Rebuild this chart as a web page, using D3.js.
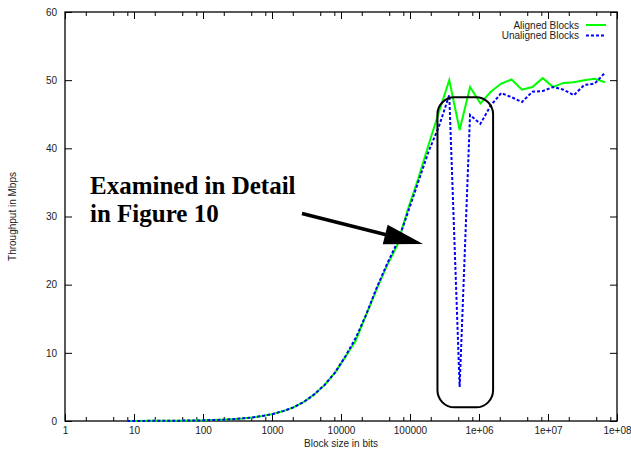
<!DOCTYPE html>
<html>
<head>
<meta charset="utf-8">
<script src="https://cdn.jsdelivr.net/npm/d3@7"></script>
<style>
  html, body { margin: 0; padding: 0; background: #fff; }
  svg { display: block; }
  .sans { font-family: "Liberation Sans", Arial, Helvetica, sans-serif; }
  .serif { font-family: "Liberation Serif", "Times New Roman", serif; font-weight: bold; }
</style>
</head>
<body>
<svg id="chart" width="631" height="451"></svg>
<script>
// ---- data ----
const blockSizes = [8, 11, 16, 23, 32, 45, 64, 91, 128, 181, 256, 362, 512, 724, 1024, 1448,
  2048, 2896, 4096, 5793, 8192, 11585, 16384, 23170, 32768, 46341, 65536, 92682, 131072,
  185364, 262144, 370728, 524288, 741455, 1048576, 1482910, 2097152, 2965821, 4194304,
  5931642, 8388608, 11863283, 16777216, 23726566, 33554432, 47453133, 67108864];

const alignedMbps = [0.01, 0.01, 0.02, 0.02, 0.03, 0.05, 0.07, 0.09, 0.13, 0.18, 0.26, 0.37,
  0.52, 0.73, 1.02, 1.45, 2.0, 2.8, 3.9, 5.3, 7.1, 9.4, 11.8, 15.6, 19.3, 22.8, 25.8, 31.0,
  35.5, 40.5, 45.3, 50.0, 42.7, 49.0, 46.6, 48.3, 49.5, 50.1, 48.6, 49.0, 50.3, 49.0, 49.6,
  49.7, 50.0, 50.2, 49.7];

const unalignedMbps = [0.01, 0.01, 0.02, 0.02, 0.03, 0.05, 0.07, 0.09, 0.13, 0.18, 0.26, 0.37,
  0.52, 0.73, 1.02, 1.45, 2.0, 2.8, 3.9, 5.3, 7.1, 9.5, 12.2, 15.6, 19.5, 23.0, 26.2, 30.5,
  35.0, 39.5, 43.2, 47.8, 5.0, 44.9, 43.6, 46.3, 48.1, 47.5, 46.8, 48.3, 48.4, 49.0, 48.6,
  47.8, 49.3, 49.5, 51.1];

const seriesNames = ["Aligned Blocks", "Unaligned Blocks"];
const xTickValues = [1, 10, 100, 1000, 10000, 100000, 1e6, 1e7, 1e8];
const xTickLabels = ["1", "10", "100", "1000", "10000", "100000", "1e+06", "1e+07", "1e+08"];
const yTickValues = [0, 10, 20, 30, 40, 50, 60];
const xMinorTicks = [2, 5, 8];
const annotationLines = ["Examined in Detail", "in Figure 10"];
// region highlighted by the rounded box (block size range, Mbps range)
const boxRange = { x0: 250000, x1: 1600000, y0: 2, y1: 47.5 };
// ---- chart ----
const svg = d3.select("#chart");
const L = 65, R = 617, T = 12, B = 421;
const x = d3.scaleLog().domain([1, 1e8]).range([L, R]);
const y = d3.scaleLinear().domain([0, 60]).range([B, T]);

const minor = [];
for (let d = 1; d < 1e8; d *= 10) xMinorTicks.forEach(m => minor.push(d * m));

function styleAxis(g) {
  g.select(".domain").remove();
  g.selectAll("line").attr("stroke", "#000").attr("stroke-width", 1);
  g.selectAll("text").attr("class", "sans").style("font-size", "10px").attr("fill", "#222");
}

svg.append("g").attr("transform", `translate(0,${B})`)
  .call(d3.axisBottom(x).tickValues(xTickValues).tickSize(-7).tickPadding(6)
    .tickFormat((d, i) => xTickLabels[i]))
  .call(styleAxis);
svg.append("g").attr("transform", `translate(0,${B})`)
  .call(d3.axisBottom(x).tickValues(minor).tickSize(-4).tickFormat(""))
  .call(styleAxis);
svg.append("g").attr("transform", `translate(0,${T})`)
  .call(d3.axisTop(x).tickValues(xTickValues).tickSize(-7).tickFormat(""))
  .call(styleAxis);
svg.append("g").attr("transform", `translate(0,${T})`)
  .call(d3.axisTop(x).tickValues(minor).tickSize(-4).tickFormat(""))
  .call(styleAxis);
svg.append("g").attr("transform", `translate(${L},0)`)
  .call(d3.axisLeft(y).tickValues(yTickValues).tickSize(-7).tickPadding(8))
  .call(styleAxis);
svg.append("g").attr("transform", `translate(${R},0)`)
  .call(d3.axisRight(y).tickValues(yTickValues).tickSize(-7).tickFormat(""))
  .call(styleAxis);

svg.append("rect").attr("x", L).attr("y", T).attr("width", R - L).attr("height", B - T)
  .attr("fill", "none").attr("stroke", "#000").attr("stroke-width", 1.3);

svg.append("text").attr("class", "sans").attr("x", (L + R) / 2).attr("y", 447).attr("text-anchor", "middle")
  .style("font-size", "10px").attr("fill", "#222").text("Block size in bits");
svg.append("text").attr("class", "sans").attr("transform", `translate(16,${(T + B) / 2}) rotate(-90)`)
  .attr("text-anchor", "middle").style("font-size", "10px").attr("fill", "#222")
  .text("Throughput in Mbps");

const line = d3.line().x(d => x(d[0])).y(d => y(d[1]));
const alignedData = blockSizes.map((s, i) => [s, alignedMbps[i]]);
const unalignedData = blockSizes.map((s, i) => [s, unalignedMbps[i]]);

svg.append("path").datum(alignedData).attr("d", line)
  .attr("fill", "none").attr("stroke", "#00ff00").attr("stroke-width", 2);
svg.append("path").datum(unalignedData).attr("d", line)
  .attr("fill", "none").attr("stroke", "#0000ff").attr("stroke-width", 2)
  .attr("stroke-dasharray", "3,2");

const legColors = ["#00ff00", "#0000ff"];
const legDash = [null, "3,2"];
seriesNames.forEach((n, i) => {
  const ly = 25 + i * 10.5;
  svg.append("text").attr("class", "sans").attr("x", 579).attr("y", ly + 3.5).attr("text-anchor", "end")
    .style("font-size", "10px").attr("fill", "#222").text(n);
  svg.append("line").attr("x1", 586).attr("x2", 606).attr("y1", ly).attr("y2", ly)
    .attr("stroke", legColors[i]).attr("stroke-width", 2)
    .attr("stroke-dasharray", legDash[i]);
});

svg.append("rect")
  .attr("x", x(boxRange.x0)).attr("y", y(boxRange.y1))
  .attr("width", x(boxRange.x1) - x(boxRange.x0)).attr("height", y(boxRange.y0) - y(boxRange.y1))
  .attr("rx", 17).attr("ry", 17)
  .attr("fill", "none").attr("stroke", "#000").attr("stroke-width", 2);

annotationLines.forEach((t, i) => {
  svg.append("text").attr("class", "serif").style("font-size", "25px").attr("fill", "#000")
    .attr("x", 90).attr("y", 194 + i * 28).text(t);
});

const ax0 = 302, ay0 = 213.5, ax1 = 423, ay1 = 244;
const ang = Math.atan2(ay1 - ay0, ax1 - ax0);
const headLen = 39, headHalf = 10;
const bx = ax1 - headLen * Math.cos(ang), by = ay1 - headLen * Math.sin(ang);
svg.append("line").attr("x1", ax0).attr("y1", ay0).attr("x2", bx + 2 * Math.cos(ang)).attr("y2", by + 2 * Math.sin(ang))
  .attr("stroke", "#000").attr("stroke-width", 3.5);
svg.append("path")
  .attr("d", `M${ax1},${ay1} L${bx - headHalf * Math.sin(ang)},${by + headHalf * Math.cos(ang)} L${bx + headHalf * Math.sin(ang)},${by - headHalf * Math.cos(ang)} Z`)
  .attr("fill", "#000");
</script>
</body>
</html>
